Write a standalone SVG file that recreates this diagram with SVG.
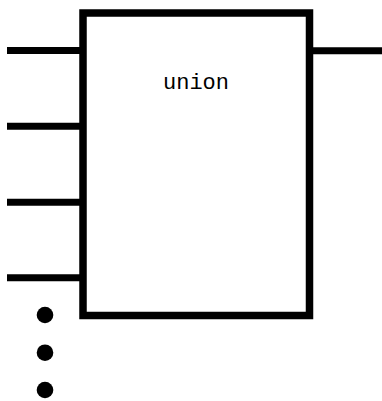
<svg xmlns="http://www.w3.org/2000/svg" width="382" height="401" viewBox="0 0 382 401">
<style>
.ln{stroke:#000;stroke-width:7;fill:none}
.box{stroke:#000;stroke-width:7.5;fill:#fff}
.lbl{font-family:"Liberation Mono","Courier New",monospace;font-size:22px;fill:#000;text-anchor:middle}
</style>
<rect width="382" height="401" fill="#fff"/>
<g id="connectors">
<line class="ln" x1="7" y1="50.5" x2="84" y2="50.5"/>
<line class="ln" x1="7" y1="126.3" x2="84" y2="126.3"/>
<line class="ln" x1="7" y1="202.3" x2="84" y2="202.3"/>
<line class="ln" x1="7" y1="277.7" x2="84" y2="277.7"/>
<line class="ln" x1="308" y1="50.7" x2="382" y2="50.7"/>
</g>
<g id="union">
<rect class="box" x="83" y="13" width="226.5" height="302.5"/>
<text class="lbl" x="196" y="89">union</text>
</g>
<g id="ellipsis">
<circle cx="45" cy="315" r="8.3"/>
<circle cx="45" cy="352.7" r="8.3"/>
<circle cx="45" cy="390" r="8.3"/>
</g>
</svg>
